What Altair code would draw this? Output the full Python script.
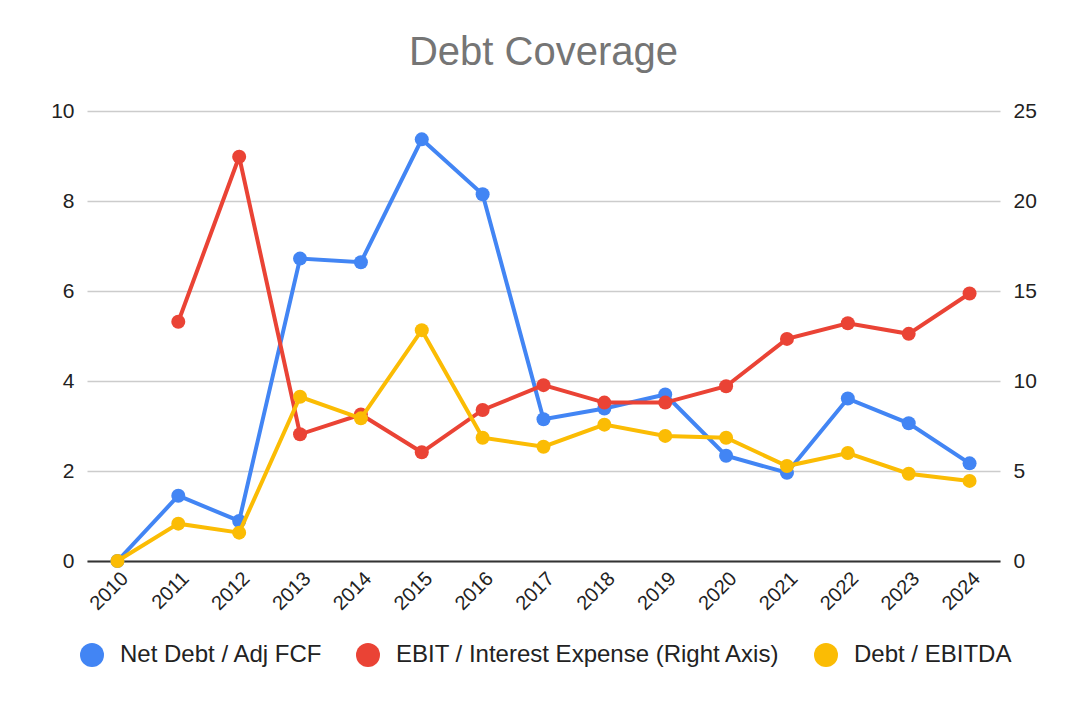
import altair as alt
import pandas as pd

years = ["2010", "2011", "2012", "2013", "2014", "2015", "2016", "2017",
         "2018", "2019", "2020", "2021", "2022", "2023", "2024"]
net_debt_adj_fcf = [0, 1.45, 0.89, 6.72, 6.64, 9.37, 8.15, 3.15, 3.39, 3.70,
                    2.34, 1.96, 3.61, 3.06, 2.17]
ebit_interest = [None, 13.29, 22.46, 7.04, 8.14, 6.04, 8.39, 9.77, 8.80, 8.80,
                 9.71, 12.34, 13.21, 12.62, 14.86]
debt_ebitda = [0, 0.83, 0.63, 3.65, 3.17, 5.13, 2.74, 2.54, 3.03, 2.78,
               2.74, 2.11, 2.40, 1.94, 1.78]

series_names = ["Net Debt / Adj FCF", "EBIT / Interest Expense (Right Axis)", "Debt / EBITDA"]
series_colors = ["#4285F4", "#EA4335", "#FBBC04"]
left_ticks = [0, 2, 4, 6, 8, 10]
right_ticks = [0, 5, 10, 15, 20, 25]

FONT = "Liberation Sans, Arial, sans-serif"


def frame(name, values):
    return pd.DataFrame({"year": years, "value": values, "series": name})


df_blue = frame(series_names[0], net_debt_adj_fcf)
df_red = frame(series_names[1], ebit_interest)
df_yellow = frame(series_names[2], debt_ebitda)

legend = alt.Legend(
    title=None, orient="none", legendX=-7, legendY=532, direction="horizontal",
    symbolType="circle", symbolSize=576, symbolStrokeWidth=0, symbolOpacity=1,
    labelFontSize=24, labelFont=FONT, labelColor="#222222", labelOffset=16,
    columnPadding=33, padding=0, labelLimit=1000,
)
color = alt.Color("series:N", scale=alt.Scale(domain=series_names, range=series_colors),
                  legend=legend)

x = alt.X("year:O", scale=alt.Scale(type="point", padding=0.5),
          axis=alt.Axis(title=None, labelAngle=-45, labelFontSize=20, labelFont=FONT,
                        labelColor="#222222", ticks=False, domain=True,
                        domainColor="#333333", domainWidth=2, labelPadding=7,
                        grid=False, zindex=0))

line_kw = dict(strokeWidth=4,
               point=alt.OverlayMarkDef(size=196, filled=True, opacity=1, strokeWidth=0))

blue = alt.Chart(df_blue).mark_line(**line_kw).encode(
    x=x,
    y=alt.Y("value:Q", scale=alt.Scale(domain=[0, 10]),
            axis=alt.Axis(title=None, values=left_ticks, grid=True, gridColor="#cccccc",
                          gridWidth=1.5, domain=False, ticks=False, labelPadding=13,
                          labelFontSize=21, labelFont=FONT, labelColor="#222222")),
    color=color,
)

red = alt.Chart(df_red).mark_line(**line_kw).encode(
    x=x,
    y=alt.Y("value:Q", scale=alt.Scale(domain=[0, 25]),
            axis=alt.Axis(title=None, orient="right", values=right_ticks, grid=False,
                          domain=False, ticks=False, labelPadding=13,
                          labelFontSize=21, labelFont=FONT, labelColor="#222222")),
    color=color,
)

yellow = alt.Chart(df_yellow).mark_line(**line_kw).encode(
    x=x,
    y=alt.Y("value:Q", scale=alt.Scale(domain=[0, 10]), axis=None),
    color=color,
)

chart = alt.layer(blue, red, yellow).resolve_scale(y="independent").properties(
    width=913, height=450,
    autosize=alt.AutoSizeParams(type="none"),
    padding={"left": 79, "top": 103, "right": 80, "bottom": 125},
    title=alt.TitleParams("Debt Coverage", fontSize=40, font=FONT, color="#757575",
                          fontWeight="normal", anchor="middle", frame="group",
                          baseline="alphabetic", offset=-5),
    background="white",
).configure_view(stroke=None)

chart.save("out.html", embed_options={"renderer": "svg", "actions": False})
